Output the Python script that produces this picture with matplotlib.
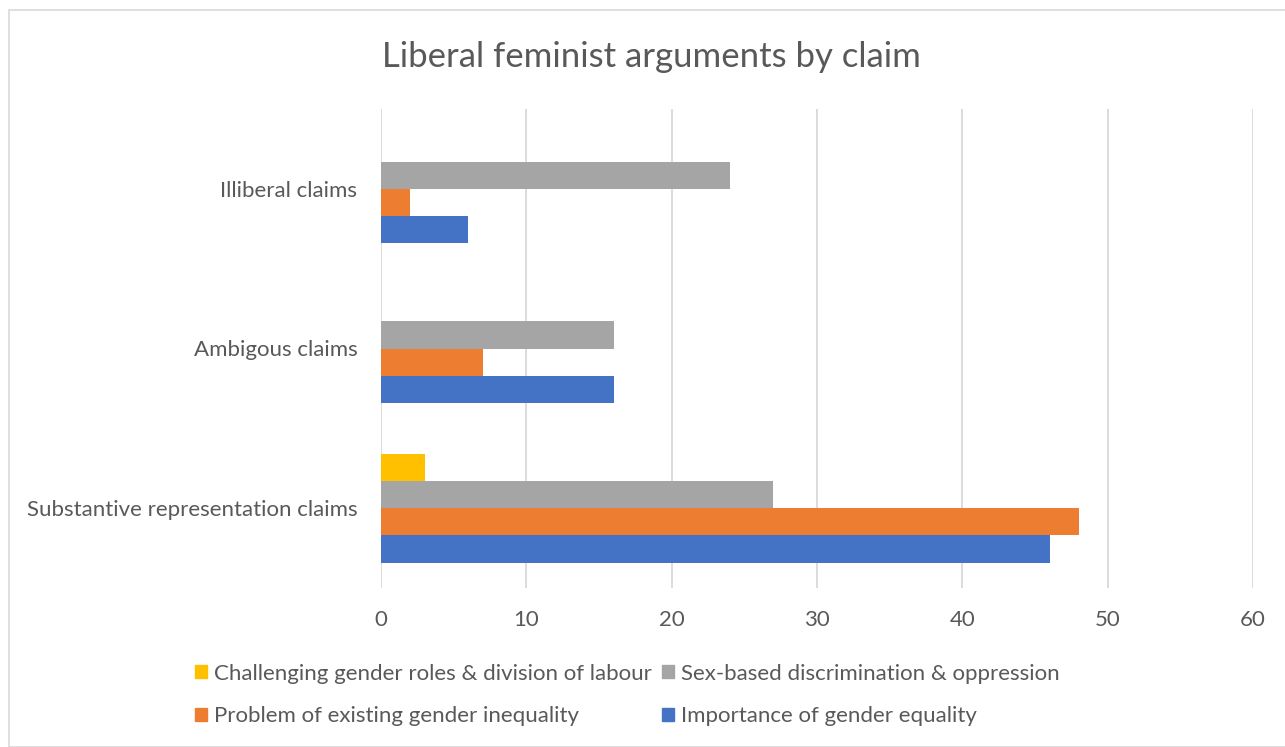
import matplotlib
matplotlib.use("Agg")
import matplotlib.pyplot as plt
from matplotlib.patches import Rectangle, Patch
import numpy as np

categories = ["Substantive representation claims", "Ambigous claims", "Illiberal claims"]
importance = [46, 16, 6]
problem = [48, 7, 2]
sexbased = [27, 16, 24]
challenging = [3, 0, 0]
series_names = ["Importance of gender equality", "Problem of existing gender inequality",
                "Sex-based discrimination & oppression", "Challenging gender roles & division of labour"]
colors = ["#4472C4", "#ED7D31", "#A5A5A5", "#FFC000"]
xticks = [0, 10, 20, 30, 40, 50, 60]

plt.rcParams['font.family'] = ['Lato', 'DejaVu Sans']
txt = "#595959"

fig = plt.figure(figsize=(12.85, 7.47), dpi=100)
fig.patches.append(Rectangle((9/1285, 0), 1 - 9/1285 + 0.01, 1 - 10/747, transform=fig.transFigure,
                             fill=False, edgecolor="#D9D9D9", linewidth=1.2))
ax = fig.add_axes([381/1285, 1 - 588/747, (1253 - 381)/1285, (588 - 109)/747])

y = np.arange(len(categories))
h = 0.171
data = [importance, problem, sexbased, challenging]
for i, (vals, c) in enumerate(zip(data, colors)):
    offs = (i - 1.5) * h
    ax.barh(y + offs, vals, height=h, color=c, label=series_names[i], zorder=3)

ax.set_xlim(0, 60)
ax.set_ylim(-0.5, 2.5)
ax.set_xticks(xticks)
ax.set_yticks(y)
ax.set_yticklabels(categories)
ax.grid(axis='x', color="#D9D9D9", linewidth=1.3, zorder=0)
for s in ax.spines.values():
    s.set_visible(False)
ax.tick_params(axis='both', length=0, colors=txt, labelsize=16)
ax.tick_params(axis='x', pad=16)
ax.tick_params(axis='y', pad=17)

fig.text(651/1285, 1 - 57/747, "Liberal feminist arguments by claim", ha='center', va='center',
         fontsize=25, color=txt)

handles = [Patch(color=colors[3]), Patch(color=colors[1]), Patch(color=colors[2]), Patch(color=colors[0])]
labels = [series_names[3], series_names[1], series_names[2], series_names[0]]
leg = fig.legend(handles, labels, ncol=2, loc='center', bbox_to_anchor=(627/1285, 1 - 695/747),
                 frameon=False, fontsize=16, labelcolor=txt, handlelength=0.55, handleheight=0.55,
                 handletextpad=0.3, columnspacing=0.45, labelspacing=1.03, borderpad=0)

fig.savefig("out.png", dpi=100)
